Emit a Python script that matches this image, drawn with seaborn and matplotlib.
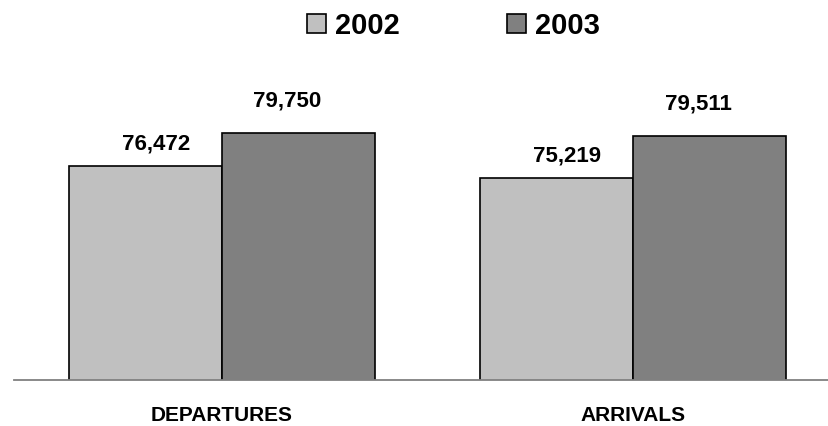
import pandas as pd
import matplotlib
matplotlib.use("Agg")
import matplotlib.pyplot as plt
import seaborn as sns

# DATA

categories = ["DEPARTURES", "ARRIVALS"]
years = ["2002", "2003"]
values_2002 = [76472, 75219]
values_2003 = [79750, 79511]

data = pd.DataFrame({
    "category": categories * 2,
    "year": [years[0]] * 2 + [years[1]] * 2,
    "value": values_2002 + values_2003,
})

# STYLE

sns.set_style("white")
plt.rcParams["font.family"] = ["Liberation Sans", "DejaVu Sans"]
plt.rcParams["font.weight"] = "bold"
plt.rcParams["text.color"] = "black"
plt.rcParams["xtick.color"] = "black"
plt.rcParams["xtick.labelcolor"] = "black"

fig = plt.figure(figsize=(8.29, 4.26), dpi=100)
ax = fig.add_axes([14 / 829, 46 / 426, 815 / 829, 299 / 426])

sns.barplot(
    data=data, x="category", y="value", hue="year",
    order=categories, hue_order=years,
    palette=["#C0C0C0", "#808080"],
    edgecolor="black", linewidth=1.2,
    width=0.745, gap=0, ax=ax,
)

ax.set_ylim(55000, 85000)
ax.set_xlim(-0.506, 1.477)

# VALUE LABELS

offsets = [(8, 12), (-8, 19)]
for container, (dx, dy) in zip(ax.containers, offsets):
    for bar in container:
        h = bar.get_height()
        ax.annotate(
            f"{int(h):,}",
            xy=(bar.get_x() + bar.get_width() / 2, h),
            xytext=(dx, dy), textcoords="offset points",
            ha="center", va="baseline", color="black",
            fontsize=16, fontweight="bold", annotation_clip=False,
        )

# AXES

for side in ["top", "left", "right"]:
    ax.spines[side].set_visible(False)
ax.spines["bottom"].set_color("#808080")
ax.spines["bottom"].set_linewidth(1.3)
ax.set_yticks([])
ax.set_xlabel("")
ax.set_ylabel("")
ax.tick_params(axis="x", length=0, pad=19, labelsize=15, labelcolor="black")
for lbl in ax.get_xticklabels():
    lbl.set_fontweight("bold")

# LEGEND

handles, labels = ax.get_legend_handles_labels()
ax.get_legend().remove()
for h in handles:
    h.set_edgecolor("black")
fig.legend(
    handles, labels, loc="center", bbox_to_anchor=(0.547, 0.94),
    ncol=2, frameon=False,
    prop={"size": 21, "weight": "bold"},
    handlelength=0.65, handleheight=0.65,
    handletextpad=0.3, columnspacing=3.7,
)

plt.savefig("out.png", dpi=100)
